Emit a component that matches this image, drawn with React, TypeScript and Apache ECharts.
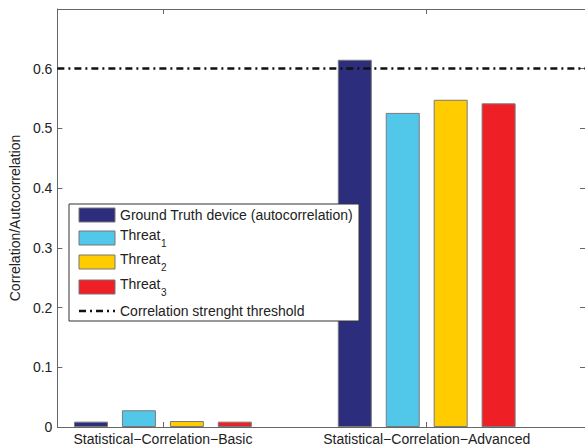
import React, { useEffect, useRef } from "react";
import * as echarts from "echarts";

const categories = ["Statistical\u2212Correlation\u2212Basic", "Statistical\u2212Correlation\u2212Advanced"];
const groundTruth = [0.009, 0.615];
const threat1 = [0.028, 0.526];
const threat2 = [0.010, 0.548];
const threat3 = [0.009, 0.542];
const threshold = 0.6;
const yTicks = [0, 0.1, 0.2, 0.3, 0.4, 0.5, 0.6];

const seriesDefs = [
  { name: "Ground Truth device (autocorrelation)", base: "Ground Truth device (autocorrelation)", sub: "", values: groundTruth, color: "#2C2D7D" },
  { name: "Threat1", base: "Threat", sub: "1", values: threat1, color: "#51C8EA" },
  { name: "Threat2", base: "Threat", sub: "2", values: threat2, color: "#FFCC00" },
  { name: "Threat3", base: "Threat", sub: "3", values: threat3, color: "#EE1F25" },
];

const FONT = '"Liberation Sans", Arial, Helvetica, sans-serif';

export default function App() {
  const ref = useRef<HTMLDivElement>(null);
  useEffect(() => {
    document.body.style.margin = "0";
    if (!ref.current) return;
    const chart = echarts.init(ref.current, undefined, { renderer: "svg" });

    const legendX = 69;
    const legendTop = 204;
    const rowYs = [215, 238, 262, 287];
    const lineRowY = 311;
    const graphic: any[] = [
      {
        type: "rect",
        z: 100,
        shape: { x: legendX, y: legendTop, width: 290, height: 117 },
        style: { fill: "#fff", stroke: "#333", lineWidth: 1 },
      },
    ];
    seriesDefs.forEach((s, i) => {
      const cy = rowYs[i];
      graphic.push({
        type: "rect",
        z: 101,
        shape: { x: 79, y: cy - 7, width: 36, height: 14 },
        style: { fill: s.color, stroke: "#777", lineWidth: 1 },
      });
      const ty = s.sub ? cy - 3 : cy;
      graphic.push({
        type: "text",
        z: 101,
        x: 120,
        y: ty,
        style: { text: s.base, fontSize: 14, fontFamily: FONT, fill: "#222", verticalAlign: "middle", align: "left" },
      });
      if (s.sub) {
        graphic.push({
          type: "text",
          z: 101,
          x: 161,
          y: ty + 8,
          style: { text: s.sub, fontSize: 10, fontFamily: FONT, fill: "#222", verticalAlign: "middle", align: "left" },
        });
      }
    });
    graphic.push({
      type: "line",
      z: 101,
      shape: { x1: 79, y1: lineRowY, x2: 115, y2: lineRowY },
      style: { stroke: "#111", lineWidth: 2.5, lineDash: [7, 4, 2, 4] },
    });
    graphic.push({
      type: "text",
      z: 101,
      x: 120,
      y: lineRowY,
      style: { text: "Correlation strenght threshold", fontSize: 14, fontFamily: FONT, fill: "#222", verticalAlign: "middle", align: "left" },
    });

    const axisLineStyle = { color: "#666", width: 1 };
    const xCommon = {
      type: "value",
      min: 0.6,
      max: 2.6,
      splitLine: { show: false },
      axisLine: { show: true, onZero: false, lineStyle: axisLineStyle },
    };
    const yCommon = {
      type: "value",
      min: 0,
      max: 0.7,
      interval: 0.1,
      splitLine: { show: false },
      axisLine: { show: true, onZero: false, lineStyle: axisLineStyle },
    };

    chart.setOption({
      animation: false,
      backgroundColor: "#fff",
      textStyle: { fontFamily: FONT },
      grid: { left: 57, top: 9, right: -2, bottom: 20, containLabel: false },
      xAxis: [
        {
          ...xCommon,
          position: "bottom",
          axisTick: { show: true, inside: true, length: 5, customValues: [1, 2], lineStyle: axisLineStyle },
          axisLabel: {
            show: true,
            customValues: [1, 2],
            margin: 5,
            fontSize: 14,
            color: "#222",
            fontFamily: FONT,
            formatter: (v: number) => categories[Math.round(v) - 1] ?? "",
          },
        },
        {
          ...xCommon,
          position: "top",
          axisTick: { show: true, inside: true, length: 5, customValues: [1, 2], lineStyle: axisLineStyle },
          axisLabel: { show: false },
        },
      ],
      yAxis: [
        {
          ...yCommon,
          position: "left",
          name: "Correlation/Autocorrelation",
          nameLocation: "middle",
          nameGap: 33,
          nameTextStyle: { fontSize: 14, color: "#222", fontFamily: FONT },
          axisTick: { show: true, inside: true, length: 5, customValues: yTicks, lineStyle: axisLineStyle },
          axisLabel: {
            show: true,
            customValues: yTicks,
            margin: 5,
            fontSize: 14,
            color: "#222",
            fontFamily: FONT,
            formatter: (v: number) => String(Math.round(v * 10) / 10),
          },
        },
        {
          ...yCommon,
          position: "right",
          axisTick: { show: true, inside: true, length: 5, customValues: yTicks, lineStyle: axisLineStyle },
          axisLabel: { show: false },
        },
      ],
      series: seriesDefs.map((s, i) => ({
        name: s.name,
        type: "bar",
        xAxisIndex: 0,
        yAxisIndex: 0,
        barWidth: 34,
        barGap: "41%",
        data: s.values.map((v, j) => [j + 1, v]),
        itemStyle: { color: s.color, borderColor: "#7a7a7a", borderWidth: 1 },
        ...(i === 0
          ? {
              markLine: {
                silent: true,
                symbol: "none",
                z: 5,
                label: { show: false },
                lineStyle: { color: "#111", width: 2.5, type: [7, 4, 2, 4] },
                data: [{ yAxis: threshold }],
              },
            }
          : {}),
      })),
      graphic,
    });
    return () => chart.dispose();
  }, []);
  return <div ref={ref} style={{ width: 585, height: 447 }} />;
}
